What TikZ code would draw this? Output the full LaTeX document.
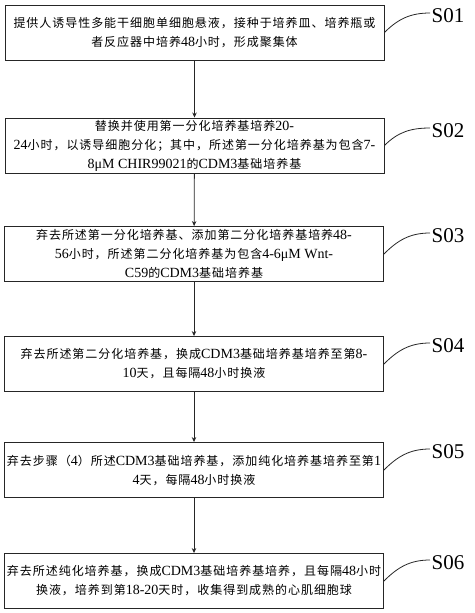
\documentclass[tikz,border=0pt]{standalone}
\usepackage{fontspec}
\setmainfont{Noto Sans CJK SC}[LetterSpace=8]
\newfontfamily\latf{Liberation Serif}
\newcommand\La[1]{{\latf\fontsize{14}{19}\selectfont #1}}
\usetikzlibrary{arrows.meta}
\tikzset{
  box/.style={draw=black!85, line width=0.9pt, minimum width=379pt, minimum height=55pt,
    inner sep=0pt, align=center, font=\fontsize{12}{19}\selectfont},
  lab/.style={anchor=west, inner sep=1.5pt, font=\latf\fontsize{21}{21}\selectfont},
  flow/.style={draw=black!85, line width=0.8pt, -{Stealth[length=5pt,width=4.5pt]}},
  curve/.style={draw=black!85, line width=0.8pt}
}
\begin{document}
\begin{tikzpicture}[x=1pt,y=-1pt]
\useasboundingbox (0,0) rectangle (474,613);
\node[box] (b1) at (194.5,32.5) {提供人诱导性多能干细胞单细胞悬液，接种于培养皿、培养瓶或\\者反应器中培养\La{48}小时，形成聚集体};
\node[box] (b2) at (194.5,145.5) {替换并使用第一分化培养基培养\La{20-}\\\La{24}小时，以诱导细胞分化；其中，所述第一分化培养基为包含\La{7-}\\\La{8μM CHIR99021}的\La{CDM3}基础培养基};
\node[box] (b3) at (194,254) {弃去所述第一分化培养基、添加第二分化培养基培养\La{48-}\\\La{56}小时，所述第二分化培养基为包含\La{4-6μM Wnt-}\\\La{C59}的\La{CDM3}基础培养基};
\node[box] (b4) at (194,364) {弃去所述第二分化培养基，换成\La{CDM3}基础培养基培养至第\La{8-}\\\La{10}天，且每隔\La{48}小时换液};
\node[box] (b5) at (194,470) {弃去步骤（\La{4}）所述\La{CDM3}基础培养基，添加纯化培养基培养至第\La{1}\\\La{4}天，每隔\La{48}小时换液};
\node[box] (b6) at (194,581) {弃去所述纯化培养基，换成\La{CDM3}基础培养基培养，且每隔\La{48}小时\\换液，培养到第\La{18-20}天时，收集得到成熟的心肌细胞球};

\node[lab] (l1) at (430,16) {S01};
\node[lab] (l2) at (430,131) {S02};
\node[lab] (l3) at (430,236) {S03};
\node[lab] (l4) at (430,346) {S04};
\node[lab] (l5) at (430,452) {S05};
\node[lab] (l6) at (430,563) {S06};

\draw[flow] (b1) -- (b2);
\draw[flow] (b2) -- (b3);
\draw[flow] (b3) -- (b4);
\draw[flow] (b4) -- (b5);
\draw[flow] (b5) -- (b6);

\foreach \i in {1,...,6}{
  \draw[curve] (b\i.east) to[out=45,in=180] ([yshift=3pt]l\i.west);
}
\end{tikzpicture}
\end{document}
